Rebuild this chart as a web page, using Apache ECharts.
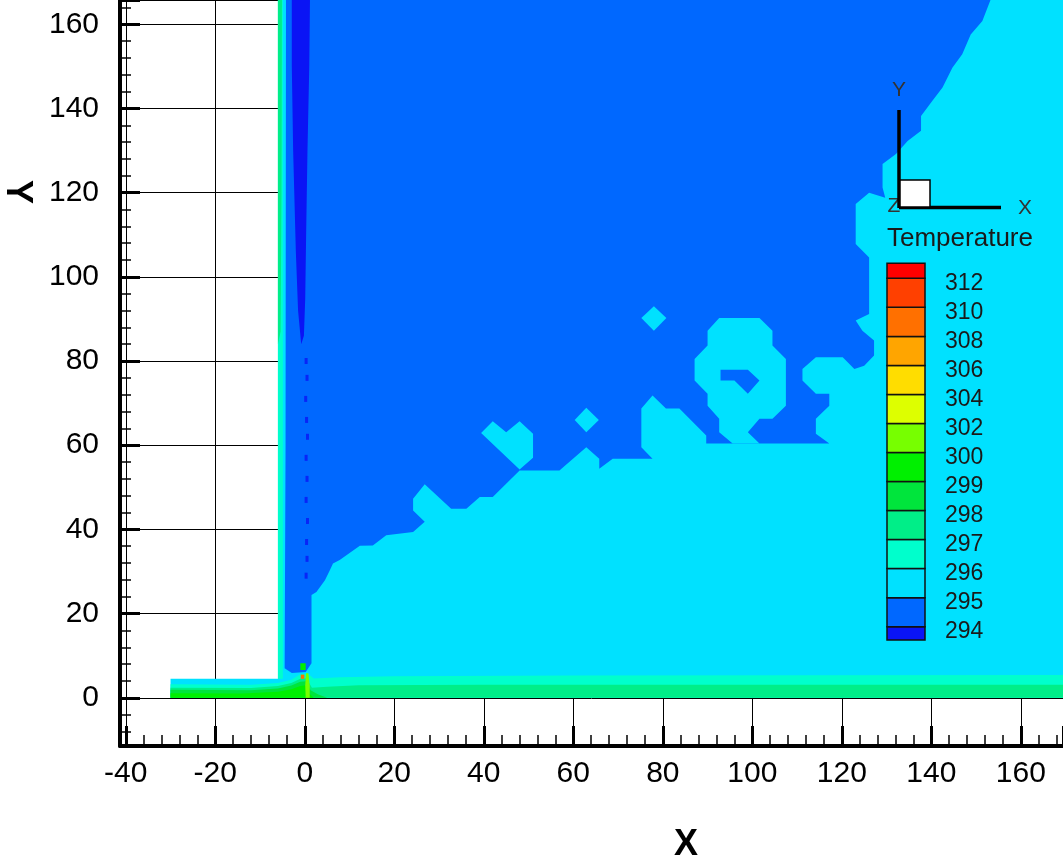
<!DOCTYPE html>
<html>
<head>
<meta charset="utf-8">
<title>Temperature contour</title>
<script src="https://cdn.jsdelivr.net/npm/echarts@6/dist/echarts.min.js"></script>
<style>
  html, body { margin: 0; padding: 0; background: #fff; }
  #chart { width: 1063px; height: 859px; }
</style>
</head>
<body>
<div id="chart"></div>
<script>
// contour levels on the colour bar (K)
const levels = [294, 295, 296, 297, 298, 299, 300, 302, 304, 306, 308, 310, 312]
// one colour per band: <294, 294-295, 295-296, ... , 310-312, >312
const bandColors = ['#0a14f5', '#0068ff', '#00e1ff', '#00ffcc', '#00ee88', '#00e53c', '#00f000',
  '#77ff00', '#ddff00', '#ffdd00', '#ffa500', '#ff7000', '#ff4000', '#ff0000']

// band outlines, [x, y]
const fluidDomain = [[-30, 0], [175, 0], [175, 170], [-6, 170], [-6, 4.5], [-30, 4.5]]
const wallStrip297 = [[-6, 4.5], [-4.9, 4.5], [-4.9, 170], [-6, 170]]
const wallStrip298 = [[-6, 84], [-5.4, 87], [-5.2, 120], [-5.1, 170], [-6, 170]]
const floor297 = [[-30, 0], [-30, 3.2], [-12, 3.1], [-6, 3.5], [-3, 4.3], [-1, 5.6], [0.6, 5.8], [2, 4.6],
  [8, 4.9], [20, 5.1], [60, 5.3], [175, 5.4], [175, 0]]
const floor298 = [[-30, 0], [-30, 2.4], [-12, 2.3], [-6, 2.8], [-3, 3.5], [-1, 4.5], [0.4, 4.6], [1.6, 2.4],
  [5, 2.6], [12, 3.0], [40, 3.1], [175, 3.1], [175, 0]]
const floor299 = [[-30, 0], [-30, 1.9], [-12, 1.8], [-6, 2.2], [-3, 2.9], [-1, 3.8], [0.3, 3.9], [1.3, 1.8],
  [3, 0.8], [5, 0]]
const floor300 = [[-30, 0], [-30, 1.1], [-14, 1.0], [-6, 1.4], [-3, 2.0], [-1, 2.8], [0.2, 3], [1, 1], [2, 0]]
const coreBlue = [[-4.2, 170], [153.3, 170], [153.3, 166], [151.4, 160.8], [148.8, 157.6], [146.9, 152.9],
  [144.7, 149.7], [142.5, 145.0], [140.2, 141.8], [137.7, 138.2], [137.7, 134.7], [134.7, 132.3],
  [132.1, 129.2], [129.1, 126.8], [129.1, 121.2], [129.7, 118.8], [126.1, 120.0], [123.1, 117.3],
  [123.1, 107.8], [126.1, 104.6], [126.1, 91.2], [123.1, 89.6], [124.6, 87.2], [127.2, 84.9],
  [127.2, 81.3], [125, 78.9], [122.8, 78.1], [120.2, 80.9], [114.2, 80.9], [111.2, 78.1], [111.2, 75.4],
  [114.2, 72.2], [117.2, 72.2], [117.2, 69.4], [114.2, 66.3], [114.2, 62.7], [117.2, 60.4], [89.7, 60.4],
  [89.7, 62.3], [83.7, 68.7], [80.7, 68.7], [77.7, 71.8], [75.2, 68.7], [75.2, 59.5], [77.7, 56.8],
  [68.8, 56.8], [65.8, 54.4], [65.8, 56.8], [62.9, 59.5], [56.9, 54.0], [48.0, 54.0], [42.0, 47.7],
  [39.1, 47.7], [36.1, 44.9], [32.7, 44.9], [26.8, 50.7], [24.2, 47.3], [24.2, 44.5], [26.8, 41.8],
  [24.2, 39.4], [18.2, 38.6], [15.2, 36.2], [12.3, 36.1], [7.8, 32.7], [6.3, 31.9], [5.6, 30.3],
  [4.5, 27.9], [2.6, 25.1], [1.5, 24.4], [1.5, 8.2], [0.2, 6.1], [-2.9, 5.9], [-4.5, 7.0], [-4.3, 60]]
const heartIsland = [[39.4, 62.9], [42.0, 65.7], [45.0, 63.1], [48.0, 65.7], [51.0, 62.7], [51.0, 57.0], [48.0, 54.2]]
const diamondA = [[62.9, 68.9], [65.7, 66.0], [62.9, 63.1], [60.3, 66.0]]
const diamondB = [[78.0, 93.0], [80.8, 90.2], [78.0, 87.2], [75.2, 90.2]]
const ringIsland = [[90.0, 87.2], [92.6, 90.2], [101.6, 90.2], [104.5, 87.2], [104.5, 83.7], [107.5, 80.5],
  [107.5, 69.4], [104.5, 66.3], [101.6, 66.3], [99.0, 63.1], [101.6, 60.4], [95.6, 60.4], [92.6, 63.1],
  [92.6, 66.3], [90.0, 69.4], [90.0, 72.2], [87.1, 75.4], [87.1, 80.5], [90.0, 83.7]]
const ringHole = [[92.9, 77.9], [99.0, 77.9], [101.6, 75.4], [99.0, 72.2], [96.0, 75.4], [92.9, 75.4]]
const coldStreak = [[-2.9, 170], [1.2, 170], [1.0, 150], [0.6, 130], [0.3, 110], [0.1, 95], [-0.2, 86],
  [-0.8, 84], [-1.5, 92], [-2.0, 106], [-2.6, 130], [-2.9, 150]]
const jetStreak = [[0.2, 0], [1.1, 0], [1.1, 3], [0.8, 5.8], [0.3, 5.8], [0.1, 3]]
const jetSpot = [[-0.9, 4.5], [-0.1, 4.5], [-0.1, 5.5], [-0.9, 5.5]]
const jetTip = [[-1.0, 6.6], [0.2, 6.6], [0.2, 8.2], [-1.0, 8.2]]
const coldDots = [[0.3, 80], [0.5, 76], [0.2, 71], [0.4, 66], [0.6, 62], [0.3, 57], [0.5, 52], [0.3, 47],
  [0.6, 42], [0.4, 37], [0.5, 33], [0.3, 29]]

// drawing order, later layers on top
const layers = [
  [2, fluidDomain], [3, wallStrip297], [4, wallStrip298],
  [3, floor297], [4, floor298], [5, floor299], [6, floor300],
  [1, coreBlue], [2, heartIsland], [2, diamondA], [2, diamondB], [2, ringIsland], [1, ringHole],
  [0, coldStreak], [7, jetStreak], [11, jetSpot], [6, jetTip]
]

const font = "'Liberation Sans', Arial, sans-serif"
const chart = echarts.init(document.getElementById('chart'))

const mainAxis = {
  type: 'value',
  axisLine: { onZero: false, lineStyle: { color: '#000', width: 4 } },
  axisTick: { inside: true, length: 20, lineStyle: { color: '#000', width: 3 } },
  minorTick: { show: true, splitNumber: 5, length: 11, lineStyle: { color: '#000', width: 1.5 } },
  splitLine: { show: true, lineStyle: { color: '#000', width: 1 } },
  axisLabel: {
    fontSize: 30, fontFamily: font, color: '#000',
    showMinLabel: false, showMaxLabel: false,
    formatter: v => (Math.abs(v % 20) < 1e-6 ? String(v) : '')
  }
}

chart.setOption({
  backgroundColor: '#fff',
  animation: false,
  grid: [
    { left: 120, right: -1, top: -1, bottom: 113 },
    { left: 887, width: 38, top: 249.3, height: 406.4 }
  ],
  xAxis: [
    Object.assign({}, mainAxis, { min: -41.29, max: 169.42, splitNumber: 10,
      axisLabel: Object.assign({}, mainAxis.axisLabel, { margin: 13 }) }),
    { type: 'value', gridIndex: 1, min: 0, max: 1, show: false }
  ],
  yAxis: [
    Object.assign({}, mainAxis, { min: -11.46, max: 165.77, splitNumber: 9,
      axisLabel: Object.assign({}, mainAxis.axisLabel, { margin: 21 }) }),
    { type: 'value', gridIndex: 1, min: 0, max: 14, interval: 1, show: false }
  ],
  series: [
    {
      type: 'custom',
      clip: true,
      silent: true,
      data: layers.map((l, i) => [l[1][0][0], l[1][0][1], i]),
      renderItem: (params, api) => {
        const [band, poly] = layers[params.dataIndex]
        return {
          type: 'polygon',
          shape: { points: poly.map(p => api.coord(p)) },
          style: { fill: bandColors[band] }
        }
      }
    },
    {
      type: 'scatter',
      silent: true,
      symbol: 'rect',
      symbolSize: [3, 6],
      itemStyle: { color: bandColors[0] },
      data: coldDots
    },
    {
      // colour bar: one box per band, the level label sits on the box's lower edge
      type: 'custom',
      xAxisIndex: 1,
      yAxisIndex: 1,
      silent: true,
      data: bandColors.map((c, k) => [0, k]),
      renderItem: (params, api) => {
        const k = params.dataIndex
        const lo = k === 0 ? 0.54 : k
        const hi = k === bandColors.length - 1 ? 13.52 : k + 1
        const a = api.coord([0, hi])
        const b = api.coord([1, lo])
        const children = [{
          type: 'rect',
          shape: { x: a[0], y: a[1], width: b[0] - a[0], height: b[1] - a[1] },
          style: { fill: bandColors[k], stroke: '#111', lineWidth: 1.5 }
        }]
        if (k >= 1) {
          children.push({
            type: 'text',
            x: b[0] + 20,
            y: b[1] + 5,
            style: { text: String(levels[k - 1]), font: '23px ' + font, fill: '#1a1a1a',
              align: 'left', verticalAlign: 'middle' }
          })
        }
        return { type: 'group', children }
      }
    }
  ],
  graphic: [
    { type: 'text', x: 17, y: 192, rotation: -Math.PI / 2, z: 100,
      style: { text: 'Y', font: 'bold 36px ' + font, fill: '#000', align: 'center', verticalAlign: 'middle' } },
    { type: 'text', x: 686, y: 845, z: 100,
      style: { text: 'X', font: 'bold 36px ' + font, fill: '#000', align: 'center', verticalAlign: 'middle' } },
    { type: 'text', x: 894, y: 206, z: 100,
      style: { text: 'Z', font: '21px ' + font, fill: '#333', align: 'center', verticalAlign: 'middle' } },
    { type: 'line', z: 101, shape: { x1: 899, y1: 110, x2: 899, y2: 208 }, style: { stroke: '#000', lineWidth: 3.5 } },
    { type: 'line', z: 101, shape: { x1: 899, y1: 207.5, x2: 1001, y2: 207.5 }, style: { stroke: '#000', lineWidth: 3.5 } },
    { type: 'rect', z: 102, shape: { x: 900, y: 180, width: 30, height: 27 }, style: { fill: '#fff', stroke: '#000', lineWidth: 1.5 } },
    { type: 'text', x: 899, y: 90, z: 100,
      style: { text: 'Y', font: '21px ' + font, fill: '#333', align: 'center', verticalAlign: 'middle' } },
    { type: 'text', x: 1025, y: 208, z: 100,
      style: { text: 'X', font: '21px ' + font, fill: '#333', align: 'center', verticalAlign: 'middle' } },
    { type: 'text', x: 887, y: 239, z: 100,
      style: { text: 'Temperature', font: '26px ' + font, fill: '#1a1a1a', align: 'left', verticalAlign: 'middle' } }
  ]
})
</script>
</body>
</html>
